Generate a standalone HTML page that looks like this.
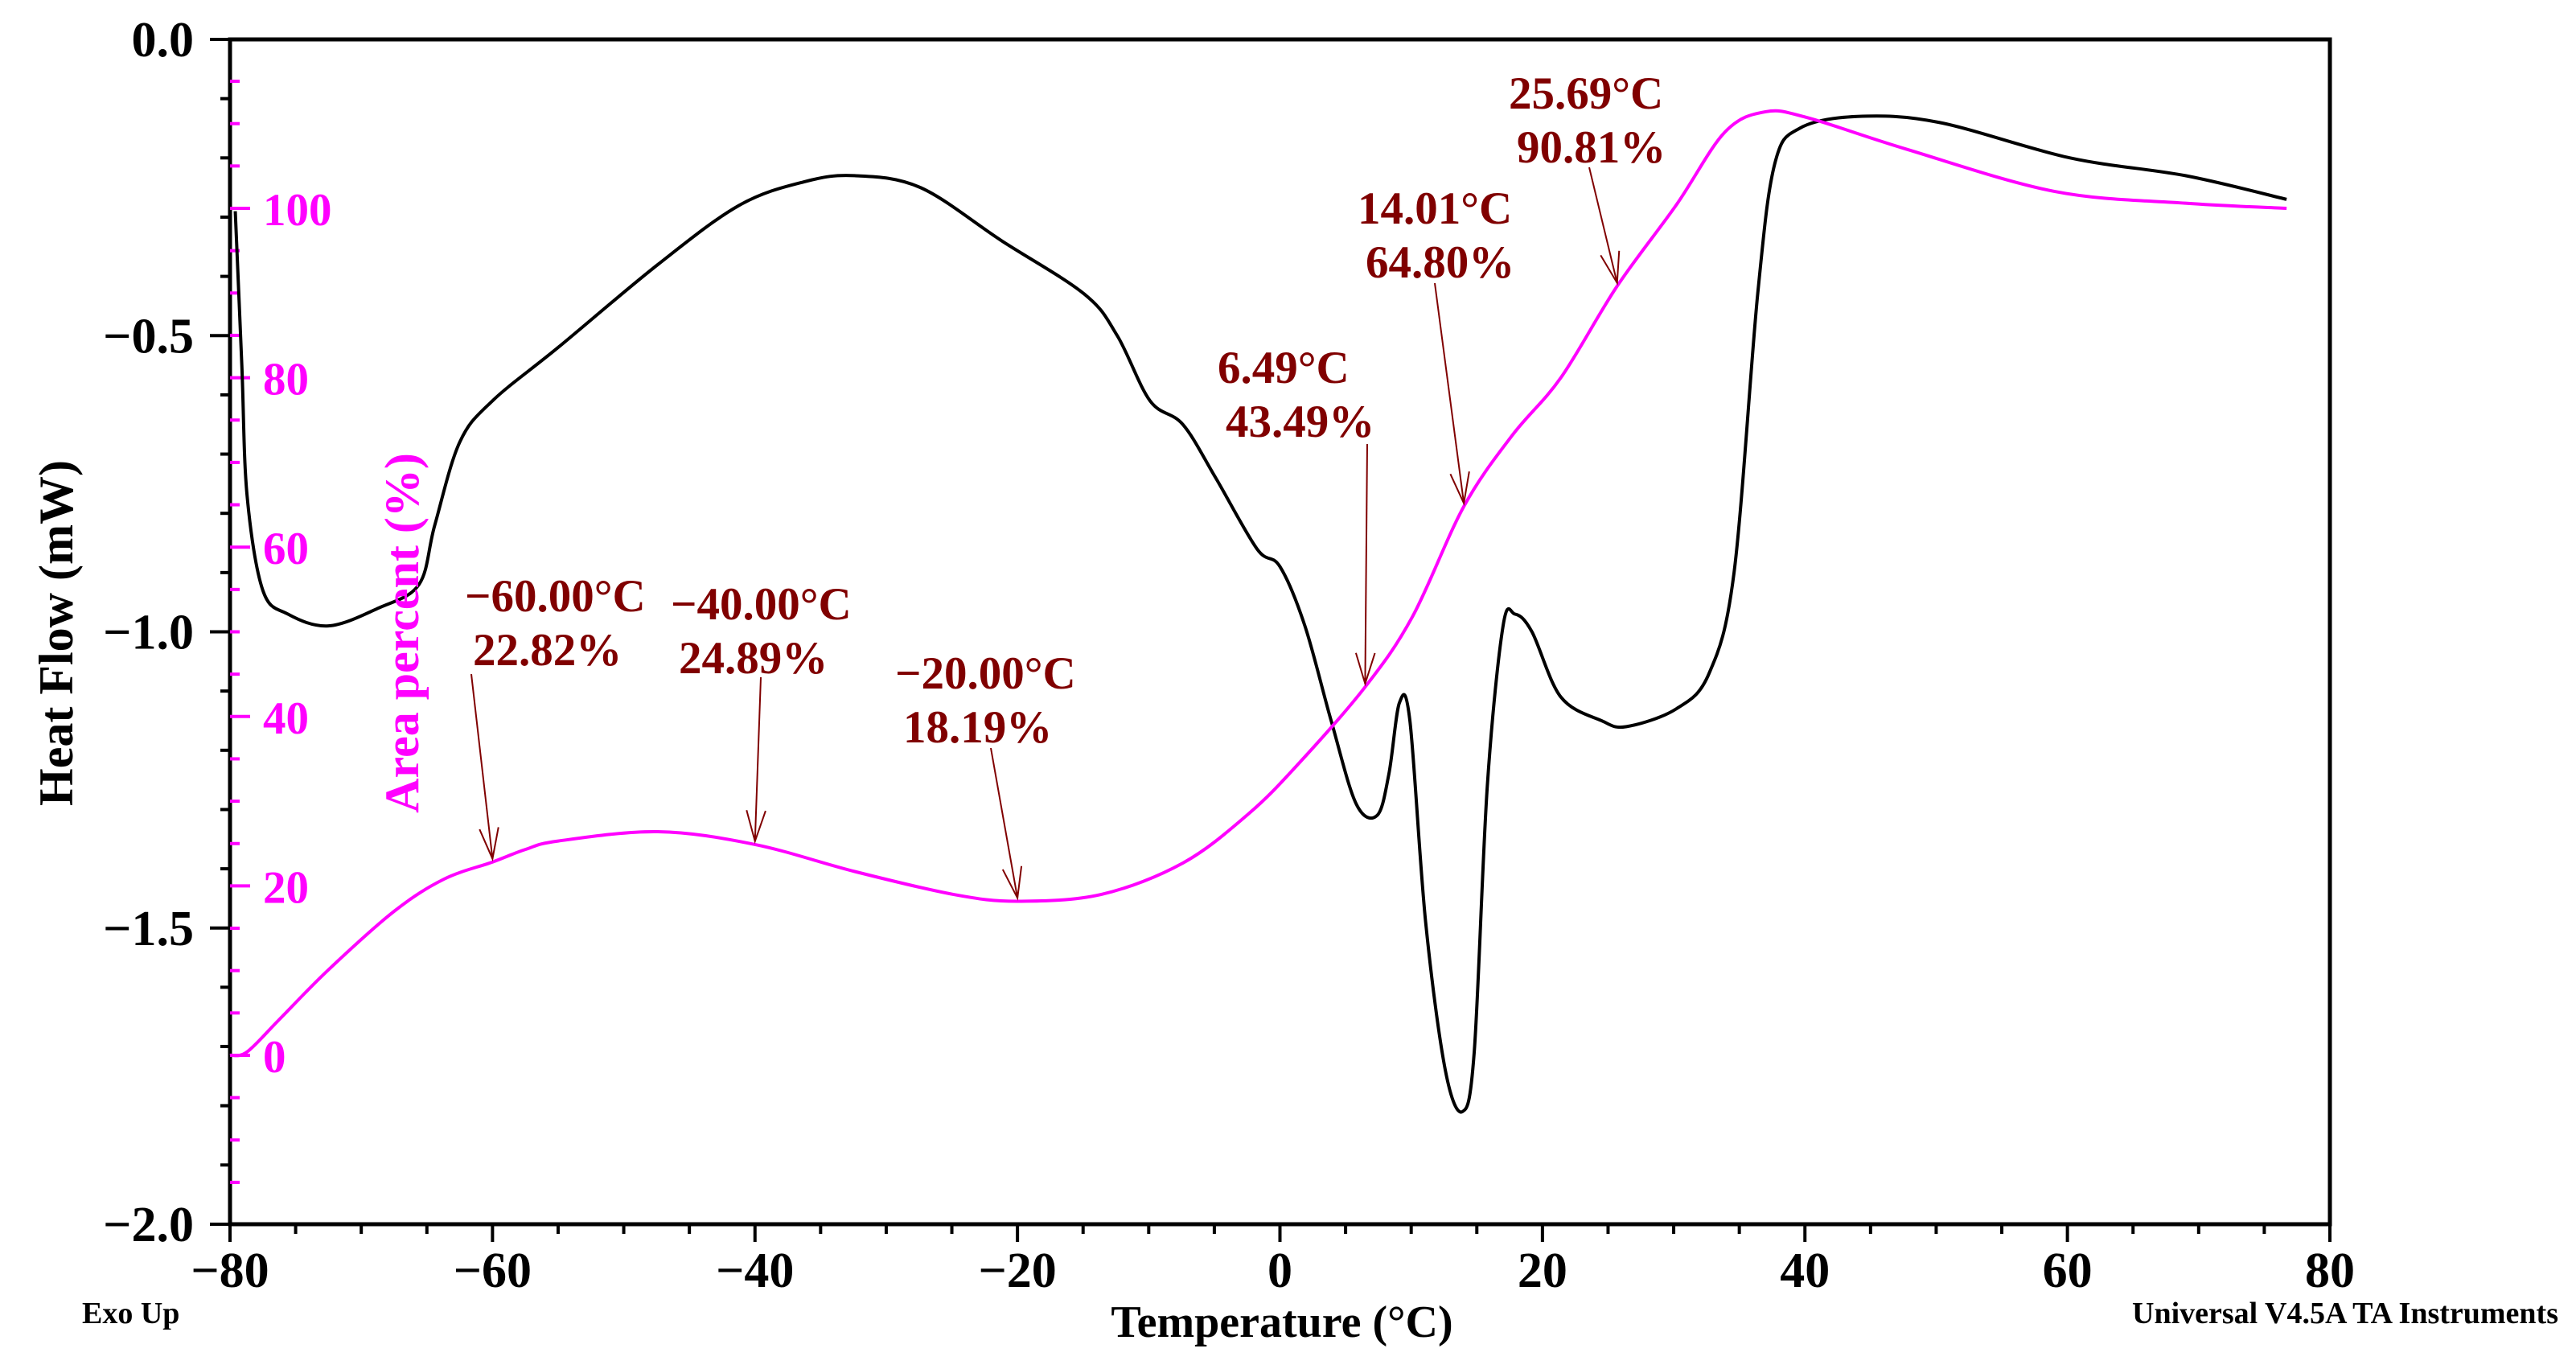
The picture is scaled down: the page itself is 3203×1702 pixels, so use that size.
<!DOCTYPE html>
<html><head><meta charset="utf-8"><style>
html,body{margin:0;padding:0;background:#fff;}
svg{display:block;font-family:"Liberation Serif",serif;font-weight:bold;}
</style></head><body>
<svg id="chart" width="3203" height="1702" viewBox="0 0 3203 1702" xmlns="http://www.w3.org/2000/svg">
<g id="axes"></g>
<g id="series"></g>
<g id="annots"></g>
<text x="0" y="0" font-size="60" text-anchor="middle" transform="translate(90,787) rotate(-90)">Heat Flow (mW)</text>
<text x="0" y="0" font-size="60" fill="#ff00ff" text-anchor="middle" transform="translate(520,787) rotate(-90)">Area percent (%)</text>
<text x="1594" y="1662" font-size="56" text-anchor="middle">Temperature (°C)</text>
<text x="102" y="1645" font-size="38">Exo Up</text>
<text x="3181" y="1645" font-size="38" text-anchor="end">Universal V4.5A TA Instruments</text>
</svg>
<script>
const heatT=[-79.6,-79.1,-78.7,-77.5,-75.6,-72.5,-68.7,-65.6,-64.4,-62.5,-60,-55,-47.4,-41.2,-36.2,-32.4,-27.4,-21.2,-14.9,-12.4,-9.9,-7.4,-4.9,-1.75,0,1.9,3.9,5.8,7.4,8.3,9.1,9.9,11.1,12.6,13.9,14.8,15.8,17.0,17.9,19.2,21.4,24.5,26.4,30.2,32.7,34.6,36.4,37.7,39.6,44,50.2,60.2,69,76.7];
const heatV=[-0.29,-0.55,-0.77,-0.93,-0.97,-0.99,-0.96,-0.92,-0.82,-0.68,-0.61,-0.52,-0.38,-0.28,-0.24,-0.23,-0.25,-0.34,-0.43,-0.50,-0.61,-0.65,-0.74,-0.86,-0.89,-0.99,-1.15,-1.29,-1.31,-1.24,-1.12,-1.15,-1.49,-1.74,-1.81,-1.71,-1.26,-0.99,-0.97,-1.00,-1.11,-1.15,-1.16,-1.13,-1.07,-0.90,-0.43,-0.21,-0.15,-0.13,-0.14,-0.20,-0.23,-0.27];
const areaT=[-80,-78.7,-76.2,-72.5,-67.5,-63.7,-60,-57.5,-55,-47.4,-40,-32.4,-24.9,-20,-13.6,-7.4,-2.4,1.4,6.49,10.1,14.01,17.7,21.4,25.69,30.2,33.9,37,40.2,47.7,59,69,76.7];
const areaV=[0,0.4,4.3,10.1,17.0,20.8,22.82,24.3,25.3,26.4,24.89,21.7,19.0,18.19,19,22.7,28.5,34.4,43.49,51.8,64.8,73.2,80,90.81,100.4,109,111.4,110.7,107,102,100.6,100];
const xTicks=["\u221280","\u221260","\u221240","\u221220","0","20","40","60","80"];
const yTicks=["0.0","\u22120.5","\u22121.0","\u22121.5","\u22122.0"];
const y2Ticks=["0","20","40","60","80","100"];
const annT=[-60,-40,-20,6.49,14.01,25.69];
const annV=[22.82,24.89,18.19,43.49,64.80,90.81];
const annTemp=["\u221260.00\u00b0C","\u221240.00\u00b0C","\u221220.00\u00b0C","6.49\u00b0C","14.01\u00b0C","25.69\u00b0C"];
const annPct=["22.82%","24.89%","18.19%","43.49%","64.80%","90.81%"];
// label layout (pixels): text left, first baseline, arrow start
const labLeft=[578,834,1113,1514,1688,1876];
const labBase=[760,770,856,476,278,135];
const arrStart=[[586,838],[946,842],[1232,930],[1700,552],[1784,352],[1976,208]];

const L=286,R=2897,T=49,B=1522;
const sx=t=>L+(t+80)/160*(R-L);
const sy=v=>T+(-v)/2*(B-T);
const sa=p=>1312-p/100*(1312-259);
const NS="http://www.w3.org/2000/svg";
function mk(tag,attrs,parent){const e=document.createElementNS(NS,tag);for(const k in attrs)e.setAttribute(k,attrs[k]);parent.appendChild(e);return e;}
const ax=document.getElementById('axes'),se=document.getElementById('series'),an=document.getElementById('annots');
let f=mk('rect',{x:L,y:T,width:R-L,height:B-T,fill:'none',stroke:'#000','stroke-width':5},ax);


for(let v=0;v<=2.0001;v+=0.1){const maj=Math.abs(v*2-Math.round(v*2))<1e-6;const y=sy(-v);
 const t=mk('line',{x1:L-(maj?25:12),x2:L,y1:y,y2:y,stroke:'#000','stroke-width':4},ax);
 
 }
yTicks.forEach((s,i)=>{const t=mk('text',{x:241,y:sy(-i*0.5)+21,'font-size':62,'text-anchor':'end'},ax);t.textContent=s;
 
 });
for(let p=-30;p<=115;p+=5){const y=sa(p);if(y<T+5||y>B-5)continue;const maj=p%20===0&&p>=0&&p<=100;
 const t=mk('line',{x1:L,x2:L+(maj?25:12),y1:y,y2:y,stroke:'#ff00ff','stroke-width':4},ax);
 
 }
y2Ticks.forEach((s,i)=>{const t=mk('text',{x:327,y:sa(i*20)+21,'font-size':57,fill:'#ff00ff'},ax);t.textContent=s;
 
 });
for(let x=-80;x<=80;x+=5){const maj=x%20===0;const t=mk('line',{x1:sx(x),x2:sx(x),y1:B,y2:B+(maj?22:12),stroke:'#000','stroke-width':4},ax);
 
 }
xTicks.forEach((s,i)=>{const t=mk('text',{x:sx(-80+i*20),y:1600,'font-size':62,'text-anchor':'middle'},ax);t.textContent=s;
 
 });
function smooth(xs,ys){let d='M'+xs[0]+','+ys[0];for(let i=1;i<xs.length;i++){const x0=xs[Math.max(i-2,0)],y0=ys[Math.max(i-2,0)],x1=xs[i-1],y1=ys[i-1],x2=xs[i],y2=ys[i],x3=xs[Math.min(i+1,xs.length-1)],y3=ys[Math.min(i+1,xs.length-1)];
 d+=` C${x1+(x2-x0)/6},${y1+(y2-y0)/6} ${x2-(x3-x1)/6},${y2-(y3-y1)/6} ${x2},${y2}`;}return d;}
let p1=mk('path',{d:smooth(heatT.map(sx),heatV.map(sy)),fill:'none',stroke:'#000','stroke-width':4},se);


let p2=mk('path',{d:smooth(areaT.map(sx),areaV.map(sa)),fill:'none',stroke:'#ff00ff','stroke-width':4},se);


annT.forEach((t,i)=>{const px=sx(t),py=sa(annV[i])-4;const [ax0,ay0]=arrStart[i];
 const g=mk('g',{},an);
 
 
 mk('line',{x1:ax0,y1:ay0,x2:px,y2:py,stroke:'#800000','stroke-width':2},g);
 const ang=Math.atan2(py-ay0,px-ax0);const a1=ang+Math.PI-0.3,a2=ang+Math.PI+0.3;
 mk('polyline',{points:`${px+40*Math.cos(a1)},${py+40*Math.sin(a1)} ${px},${py} ${px+40*Math.cos(a2)},${py+40*Math.sin(a2)}`,fill:'none',stroke:'#800000','stroke-width':2},g);
 const t1=mk('text',{x:labLeft[i],y:labBase[i],'font-size':57,fill:'#800000'},g);t1.textContent=annTemp[i];
 const t2=mk('text',{x:labLeft[i]+10,y:labBase[i]+67,'font-size':57,fill:'#800000'},g);t2.textContent=annPct[i];
});
</script>
</body></html>
